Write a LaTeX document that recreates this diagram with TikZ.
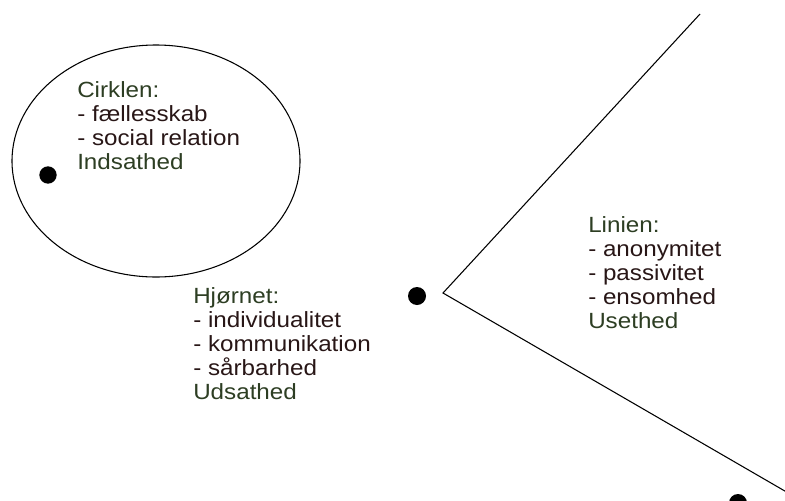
\documentclass[tikz,border=0pt]{standalone}
\usepackage{fontspec}
\setmainfont{Liberation Sans}[FakeStretch=1.1]
\usepackage{tikz}
\usetikzlibrary{positioning}
\usepackage{xcolor}
\definecolor{headcol}{RGB}{45,62,35}
\definecolor{itemcol}{RGB}{40,22,22}

\begin{document}
\begin{tikzpicture}[x=0.75pt,y=-0.75pt,
  dot/.style={circle,fill=black,inner sep=0pt,minimum size=13.5pt},
  tekst/.style={anchor=base west,align=left,inner sep=0pt,
    font=\fontsize{16.5pt}{18pt}\selectfont,text=itemcol}]
  \useasboundingbox (0,0) rectangle (785,500);
  % cirklen
  \draw[line width=0.8pt] (156,161) ellipse [x radius=144, y radius=116];
  \node[dot,minimum size=13pt] (d1) at (48,175) {};
  % hjoernet
  \coordinate (V) at (443,293);
  \coordinate (A) at (700,14);
  \coordinate (B) at (790,494);
  \draw[line width=0.8pt] (A) -- (V) -- (B);
  \node[dot] (d2) at (417,296) {};
  \node[dot] (d3) at (738,503) {};
  % tekster (base = sidste linje)
  \node[tekst] (cirk) at (77,169) {\textcolor{headcol}{Cirklen:}\\- fællesskab\\- social relation\\\textcolor{headcol}{Indsathed}};
  \node[tekst] (hjor) at (193,399) {\textcolor{headcol}{Hjørnet:}\\- individualitet\\- kommunikation\\- sårbarhed\\\textcolor{headcol}{Udsathed}};
  \node[tekst] (lin) at (588,328) {\textcolor{headcol}{Linien:}\\- anonymitet\\- passivitet\\- ensomhed\\\textcolor{headcol}{Usethed}};
\end{tikzpicture}
\end{document}
